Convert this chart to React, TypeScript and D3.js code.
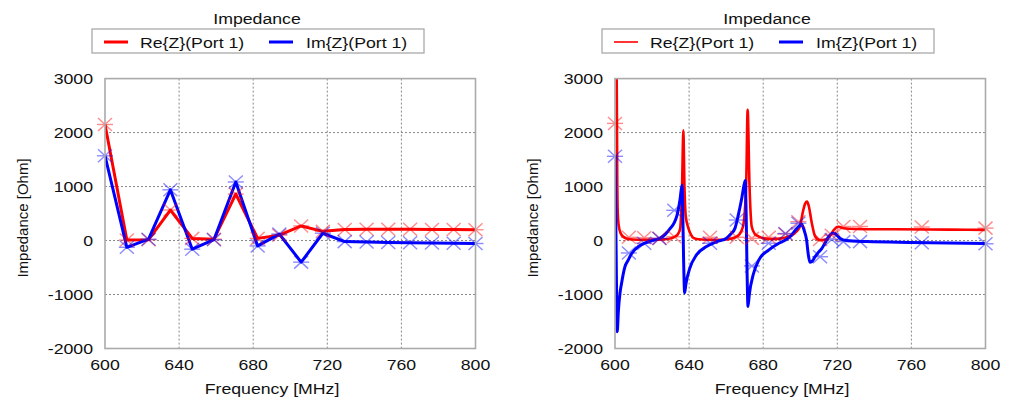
import React from "react";
import * as d3 from "d3";

// left panel: discrete sweep points
const leftFreqs = [600, 611.8, 623.5, 635.3, 647.1, 658.8, 670.6, 682.4, 694.1, 705.9, 717.6, 729.4, 741.2, 752.9, 764.7, 776.5, 788.2, 800];
const leftRe = [2150, 10, 15, 565, 40, 25, 860, 40, 100, 270, 170, 205, 210, 210, 210, 205, 205, 200];
const leftIm = [1570, -125, 25, 940, -160, 15, 1085, -100, 120, -400, 135, -20, -25, -35, -40, -45, -50, -55];

// right panel: interpolating sweep
const rightRe: [number, number][] = [
  [600.3, 3400], [600.9, 3100], [601.2, 1200], [601.5, 500], [602, 280], [603, 140], [604.5, 70], [606, 40],
  [608, 25], [612, 15], [620, 12], [626, 18], [630, 40], [632.5, 75], [634, 120], [635.2, 230], [636.2, 1000],
  [636.9, 2040], [637.5, 1000], [638.2, 450], [639.6, 230], [641, 110], [642.3, 50], [645, 25], [650, 15],
  [656, 12], [661, 25], [664.8, 60], [667, 110], [669.1, 259], [670.8, 1031], [671.6, 2420], [672.6, 1031],
  [673.8, 259], [675.5, 120], [677.7, 74], [680, 40], [685, 25], [690, 40], [695, 90], [698, 170],
  [699.8, 260], [701.6, 560], [702.7, 690], [703.7, 722], [704.6, 640], [706.2, 330], [708, 80], [710.7, 5],
  [714.3, 25], [716.5, 110], [718, 190], [720.6, 255], [723.3, 229], [730, 215], [750, 208], [780, 202], [800, 198],
];
const rightIm: [number, number][] = [
  [600, 1580], [600.4, 500], [600.8, -800], [601.2, -1690], [601.8, -1320], [602.7, -975], [603.5, -800],
  [605.4, -481], [607, -370], [609, -240], [612.6, -111], [616, -50], [621.6, 13], [624.3, 44], [627, 110],
  [629.7, 220], [632, 330], [633.5, 470], [635.1, 760], [636.2, 1031], [636.6, 500], [637, -300], [637.6, -970],
  [638.3, -800], [640.4, -512], [644, -265], [649.4, -111], [655, -20], [660.2, 44], [662.5, 120], [664.8, 230],
  [666.6, 480], [668.4, 780], [669.8, 1050], [670.3, 1110], [670.8, 500], [671.3, -600], [671.8, -1222],
  [672.5, -1000], [674.7, -620], [677.7, -357], [683.1, -172], [688, -60], [692, 10], [695, 90], [697.5, 200],
  [699.5, 270], [700.7, 300], [702, 200], [703.4, 13], [704.3, -250], [705.2, -400], [706.2, -390], [708, -300],
  [710, -210], [711.6, -150], [713.3, -49], [715.5, 80], [717.5, 136], [718.7, 130], [720, 90], [721.4, 44],
  [725, 0], [735.9, -19], [760, -35], [800, -55],
];

// right panel: adaptive sample points (markers)
const rightMarkFreqs = [600, 607.5, 615.8, 624, 632, 651.3, 665.7, 673.9, 683, 692, 699, 710.7, 717, 723.3, 732.3, 765.6, 800];
const rightMarkRe = [2170, 60, 50, 40, 70, 60, 60, 40, 60, 120, 350, 20, 100, 260, 260, 250, 230];
const rightMarkIm = [1560, -230, -50, 40, 560, -50, 380, -470, -50, 130, 320, -300, 20, -20, -20, -40, -60];

const xTicks = [600, 640, 680, 720, 760, 800];
const yTicks = [-2000, -1000, 0, 1000, 2000, 3000];

const FONT = "Liberation Sans, Arial, sans-serif";
const RED = "#ff0000";
const BLUE = "#0000ff";

const T = ({ x, y, anchor = "start", rotate = 0, stretch = 1.18, children }: any) => (
  <text
    transform={`translate(${x},${y}) rotate(${rotate}) scale(${rotate ? 1 : stretch},1)`}
    textAnchor={anchor}
    fontFamily={FONT}
    fontSize={15}
    fill="#111"
  >
    {children}
  </text>
);

const Marker = ({ x, y, color }: any) => (
  <g transform={`translate(${x},${y})`} stroke={color} strokeWidth={1.4} opacity={0.45}>
    <line x1={-8} x2={8} y1={0} y2={0} />
    <line x1={-7} x2={7} y1={-6.5} y2={6.5} />
    <line x1={-7} x2={7} y1={6.5} y2={-6.5} />
  </g>
);

const Panel = ({ id, ox, reLine, imLine, reMarks, imMarks, smooth, legRedW }: any) => {
  const top = 78.6;
  const bottom = 348.5;
  const x = d3.scaleLinear().domain([600, 800]).range([ox, ox + 370.5]);
  const y = d3.scaleLinear().domain([-2000, 3000]).range([bottom, top]);
  const line = d3
    .line<[number, number]>()
    .x((d) => x(d[0]))
    .y((d) => y(d[1]))
    .curve(smooth ? d3.curveMonotoneX : d3.curveLinear);
  const x0 = ox;
  const x1 = ox + 370.5;
  const mid = ox - 13;
  return (
    <g>
      <defs>
        <clipPath id={id}>
          <rect x={x0} y={top} width={x1 - x0} height={bottom - top} />
        </clipPath>
      </defs>
      <T x={mid + 165} y={24} anchor="middle">Impedance</T>
      <rect x={mid} y={29} width={332} height={24} fill="white" stroke="#aaa" strokeWidth={1.3} />
      <line x1={mid + 12} x2={mid + 36} y1={42} y2={42} stroke={RED} strokeWidth={legRedW} />
      <T x={mid + 48} y={47.5}>Re{"{Z}"}(Port 1)</T>
      <line x1={mid + 177} x2={mid + 201} y1={42} y2={42} stroke={BLUE} strokeWidth={3} />
      <T x={mid + 214} y={47.5}>Im{"{Z}"}(Port 1)</T>

      {xTicks.slice(1, -1).map((t) => (
        <line key={"gx" + t} x1={x(t)} x2={x(t)} y1={top} y2={bottom} stroke="#888" strokeDasharray="2,2" />
      ))}
      {yTicks.slice(1, -1).map((t) => (
        <line key={"gy" + t} x1={x0} x2={x1} y1={y(t)} y2={y(t)} stroke="#888" strokeDasharray="2,2" />
      ))}

      <g clipPath={`url(#${id})`}>
        <path d={line(reLine) || ""} fill="none" stroke={RED} strokeWidth={smooth ? 2.6 : 3} strokeLinejoin="round" />
        <path d={line(imLine) || ""} fill="none" stroke={BLUE} strokeWidth={3} strokeLinejoin="round" />
      </g>
      {reMarks.map((d: [number, number], i: number) => (
        <Marker key={"rm" + i} x={x(d[0])} y={y(d[1])} color={RED} />
      ))}
      {imMarks.map((d: [number, number], i: number) => (
        <Marker key={"im" + i} x={x(d[0])} y={y(d[1])} color={BLUE} />
      ))}

      <rect x={x0} y={top} width={x1 - x0} height={bottom - top} fill="none" stroke="#aaa" strokeWidth={1.6} />

      {yTicks.map((t) => (
        <T key={"ty" + t} x={x0 - 12} y={y(t) + 5.5} anchor="end">{t}</T>
      ))}
      {xTicks.map((t) => (
        <T key={"tx" + t} x={x(t)} y={bottom + 21.5} anchor="middle">{t}</T>
      ))}
      <T x={ox + 167} y={394} anchor="middle">Frequency [MHz]</T>
      <T x={ox - 77} y={218} anchor="middle" rotate={-90}>Impedance [Ohm]</T>
    </g>
  );
};

export default function App() {
  const leftReLine = leftFreqs.map((f, i) => [f, leftRe[i]] as [number, number]);
  const leftImLine = leftFreqs.map((f, i) => [f, leftIm[i]] as [number, number]);
  const rReMarks = rightMarkFreqs.map((f, i) => [f, rightMarkRe[i]] as [number, number]);
  const rImMarks = rightMarkFreqs.map((f, i) => [f, rightMarkIm[i]] as [number, number]);
  return (
    <svg width={1010} height={400} style={{ position: "absolute", left: 0, top: 0, background: "white" }}>
      <Panel id="clipL" ox={105} reLine={leftReLine} imLine={leftImLine} reMarks={leftReLine} imMarks={leftImLine} smooth={false} legRedW={3} />
      <Panel id="clipR" ox={615} reLine={rightRe} imLine={rightIm} reMarks={rReMarks} imMarks={rImMarks} smooth={true} legRedW={1.6} />
    </svg>
  );
}
